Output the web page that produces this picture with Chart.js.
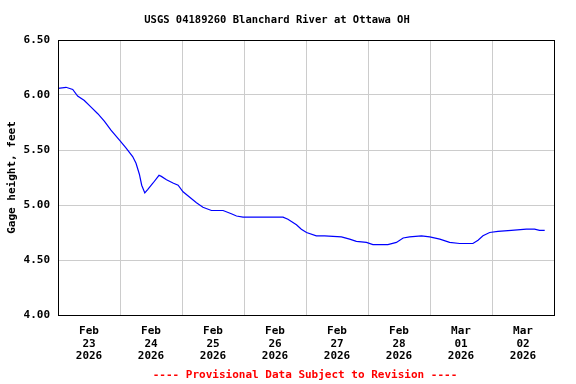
<!DOCTYPE html>
<html>
<head>
<meta charset="utf-8">
<script src="https://cdn.jsdelivr.net/npm/chart.js@4/dist/chart.umd.min.js"></script>
<style>
html,body{margin:0;padding:0;background:#fff;}
#wrap{width:576px;height:384px;position:relative;}
</style>
</head>
<body>
<div id="wrap"><canvas id="c" width="576" height="384"></canvas></div>
<script>
const chartTitle = 'USGS 04189260 Blanchard River at Ottawa OH';
const footerText = '---- Provisional Data Subject to Revision ----';
const yAxisTitle = 'Gage height, feet';
// hours since Feb 23 2026 00:00
const hours = [0, 3.1, 5.7, 7.6, 10.2, 12.8, 15.4, 18.0, 20.5, 23.8, 26.3, 28.9, 30.2, 31.5, 32.4, 33.6, 34.7, 36.8, 39.1, 40.0, 42.0, 44.5, 46.5, 48.4, 51.0, 53.6, 56.1, 59.4, 63.9, 67.1, 69.1, 71.6, 87.1, 89.0, 92.3, 94.2, 96.2, 100.0, 103.2, 109.7, 112.9, 115.5, 119.4, 121.9, 127.7, 131.0, 133.6, 136.1, 140.7, 143.9, 147.8, 151.6, 155.5, 160.6, 162.6, 164.5, 167.1, 170.3, 175.5, 181.3, 184.5, 186.4, 188.4];
const gageHeight = [6.06, 6.07, 6.05, 5.99, 5.95, 5.89, 5.83, 5.76, 5.68, 5.59, 5.52, 5.44, 5.38, 5.28, 5.18, 5.11, 5.14, 5.20, 5.27, 5.26, 5.23, 5.20, 5.18, 5.12, 5.07, 5.02, 4.98, 4.95, 4.95, 4.92, 4.90, 4.89, 4.89, 4.87, 4.82, 4.78, 4.75, 4.72, 4.72, 4.71, 4.69, 4.67, 4.66, 4.64, 4.64, 4.66, 4.70, 4.71, 4.72, 4.71, 4.69, 4.66, 4.65, 4.65, 4.68, 4.72, 4.75, 4.76, 4.77, 4.78, 4.78, 4.77, 4.77];
const tickMonths = ['Feb', 'Feb', 'Feb', 'Feb', 'Feb', 'Feb', 'Mar', 'Mar'];
const tickDays = ['23', '24', '25', '26', '27', '28', '01', '02'];
const tickYear = '2026';

const FONT = '"DejaVu Sans Mono", "Liberation Mono", monospace';

const points = hours.map((h, i) => ({x: h, y: gageHeight[i]}));

const framePlugin = {
  id: 'frame',
  afterDraw(chart) {
    const {ctx, chartArea: a} = chart;
    ctx.save();
    ctx.strokeStyle = '#000';
    ctx.lineWidth = 1;
    ctx.strokeRect(Math.round(a.left) + 0.5, Math.round(a.top) + 0.5, Math.round(a.right - a.left), Math.round(a.bottom - a.top));
    ctx.textAlign = 'center';
    ctx.textBaseline = 'middle';
    ctx.font = 'bold 10.5px ' + FONT;
    ctx.fillStyle = '#000';
    ctx.fillText(chartTitle, 277, 20);
    ctx.fillStyle = '#ff0000';
    ctx.font = 'bold 11px ' + FONT;
    ctx.fillText(footerText, 305, 375);
    ctx.restore();
  }
};

new Chart(document.getElementById('c'), {
  type: 'line',
  data: {
    datasets: [{
      data: points,
      borderColor: '#0000ff',
      borderWidth: 1.2,
      pointRadius: 0,
      tension: 0,
      fill: false
    }]
  },
  options: {
    responsive: false,
    animation: false,
    devicePixelRatio: 1,
    layout: {padding: {left: 6, right: 22, top: 40, bottom: 24}},
    plugins: {legend: {display: false}, tooltip: {enabled: false}, title: {display: false}},
    scales: {
      x: {
        type: 'linear',
        min: 0,
        max: 192,
        afterFit(s) { s.height = 45; },
        grid: {
          color: c => (c.tick && c.tick.value % 24 === 0) ? '#cccccc' : 'rgba(0,0,0,0)',
          drawTicks: false
        },
        border: {display: true, color: '#000'},
        ticks: {
          stepSize: 12,
          autoSkip: false,
          maxRotation: 0,
          padding: 10,
          color: '#000',
          font: {family: FONT, size: 11, weight: 'bold', lineHeight: 1.15},
          callback: v => {
            if (v % 24 === 12) {
              const i = Math.floor(v / 24);
              return [tickMonths[i], tickDays[i], tickYear];
            }
            return '';
          }
        }
      },
      y: {
        min: 4,
        max: 6.5,
        afterFit(s) { s.width = 52; },
        grid: {color: '#cccccc', drawTicks: false},
        border: {display: true, color: '#000'},
        ticks: {
          stepSize: 0.5,
          padding: 8,
          color: '#000',
          font: {family: FONT, size: 11, weight: 'bold'},
          callback: v => v.toFixed(2)
        },
        title: {
          display: true,
          text: yAxisTitle,
          color: '#000',
          padding: {top: 0, bottom: 2},
          font: {family: FONT, size: 11, weight: 'bold'}
        }
      }
    }
  },
  plugins: [framePlugin]
});
</script>
</body>
</html>
